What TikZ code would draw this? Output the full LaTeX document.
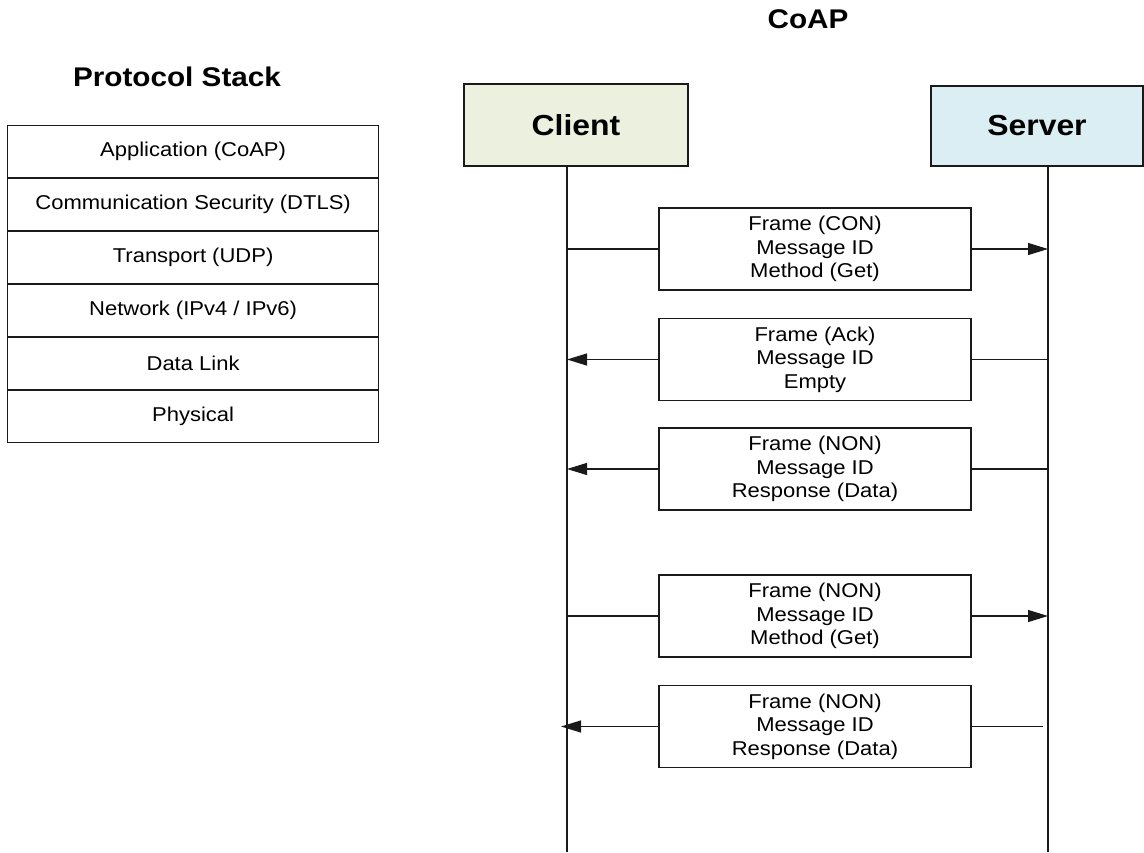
\documentclass[tikz,border=0pt]{standalone}
\usepackage{fontspec}
\setmainfont{Liberation Sans}[FakeStretch=1.1]
\usetikzlibrary{arrows.meta}
\definecolor{clientfill}{HTML}{EBF1DE}
\definecolor{serverfill}{HTML}{DBEEF3}
\definecolor{edge}{HTML}{1A1A1A}
\begin{document}
\begin{tikzpicture}[x=1pt,y=1pt,
  layerbox/.style={draw=edge, line width=1.2pt, minimum width=371pt, minimum height=52pt, inner sep=0pt, anchor=north west, font=\fontsize{20}{24}\selectfont},
  party/.style={draw=edge, line width=1.2pt, inner sep=0pt, font=\fontsize{29}{34}\selectfont\bfseries},
  framebox/.style={draw=edge, line width=1.2pt, minimum width=312pt, minimum height=82pt, inner sep=0pt, align=center, font=\fontsize{20}{23.5}\selectfont},
  title/.style={font=\fontsize{27}{32}\selectfont\bfseries},
  life/.style={draw=edge, line width=1.2pt},
  msg/.style={draw=edge, line width=1.2pt},
  msgarrow/.style={draw=edge, line width=1.2pt, -{Triangle[length=20pt,width=12pt]}}
]
\useasboundingbox (0,0) rectangle (1144,-852);

% titles
\node[title] (tcoap) at (808,-19) {CoAP};
\node[title] (tstack) at (177,-77) {Protocol Stack};

% protocol stack
\node[layerbox] (l1) at (7,-125) {Application (CoAP)};
\node[layerbox] (l2) at (7,-178) {Communication Security (DTLS)};
\node[layerbox] (l3) at (7,-231) {Transport (UDP)};
\node[layerbox] (l4) at (7,-284) {Network (IPv4 / IPv6)};
\node[layerbox] (l5) at (7,-337) {Data Link};
\node[layerbox] (l6) at (7,-390) {Physical};

% parties
\node[party, fill=clientfill, minimum width=224pt, minimum height=82pt] (client) at (576,-125) {Client};
\node[party, fill=serverfill, minimum width=212pt, minimum height=80pt] (server) at (1037,-126) {Server};

% lifelines
\coordinate (ctop) at (567,-166);
\coordinate (cbot) at (567,-852);
\coordinate (stop) at (1048,-166);
\coordinate (sbot) at (1048,-852);
\draw[life] (ctop) -- (cbot);
\draw[life] (stop) -- (sbot);

% frames
\node[framebox] (f1) at (815,-249) {Frame (CON)\\Message ID\\Method (Get)};
\node[framebox] (f2) at (815,-359.5) {Frame (Ack)\\Message ID\\Empty};
\node[framebox] (f3) at (815,-469) {Frame (NON)\\Message ID\\Response (Data)};
\node[framebox] (f4) at (815,-616) {Frame (NON)\\Message ID\\Method (Get)};
\node[framebox] (f5) at (815,-726.5) {Frame (NON)\\Message ID\\Response (Data)};

% lifeline points
\coordinate (c1) at (567,-249);   \coordinate (s1) at (1048,-249);
\coordinate (c2) at (567,-359.5); \coordinate (s2) at (1048,-359.5);
\coordinate (c3) at (567,-469);   \coordinate (s3) at (1048,-469);
\coordinate (c4) at (567,-616);   \coordinate (s4) at (1048,-616);
\coordinate (c5) at (561,-726.5); \coordinate (s5) at (1043,-726.5);

% messages
\draw[msg] (c1) -- (f1.west);
\draw[msgarrow] (f1.east) -- (s1);
\draw[msg] (s2) -- (f2.east);
\draw[msgarrow] (f2.west) -- (c2);
\draw[msg] (s3) -- (f3.east);
\draw[msgarrow] (f3.west) -- (c3);
\draw[msg] (c4) -- (f4.west);
\draw[msgarrow] (f4.east) -- (s4);
\draw[msg] (s5) -- (f5.east);
\draw[msgarrow] (f5.west) -- (c5);
\end{tikzpicture}
\end{document}
